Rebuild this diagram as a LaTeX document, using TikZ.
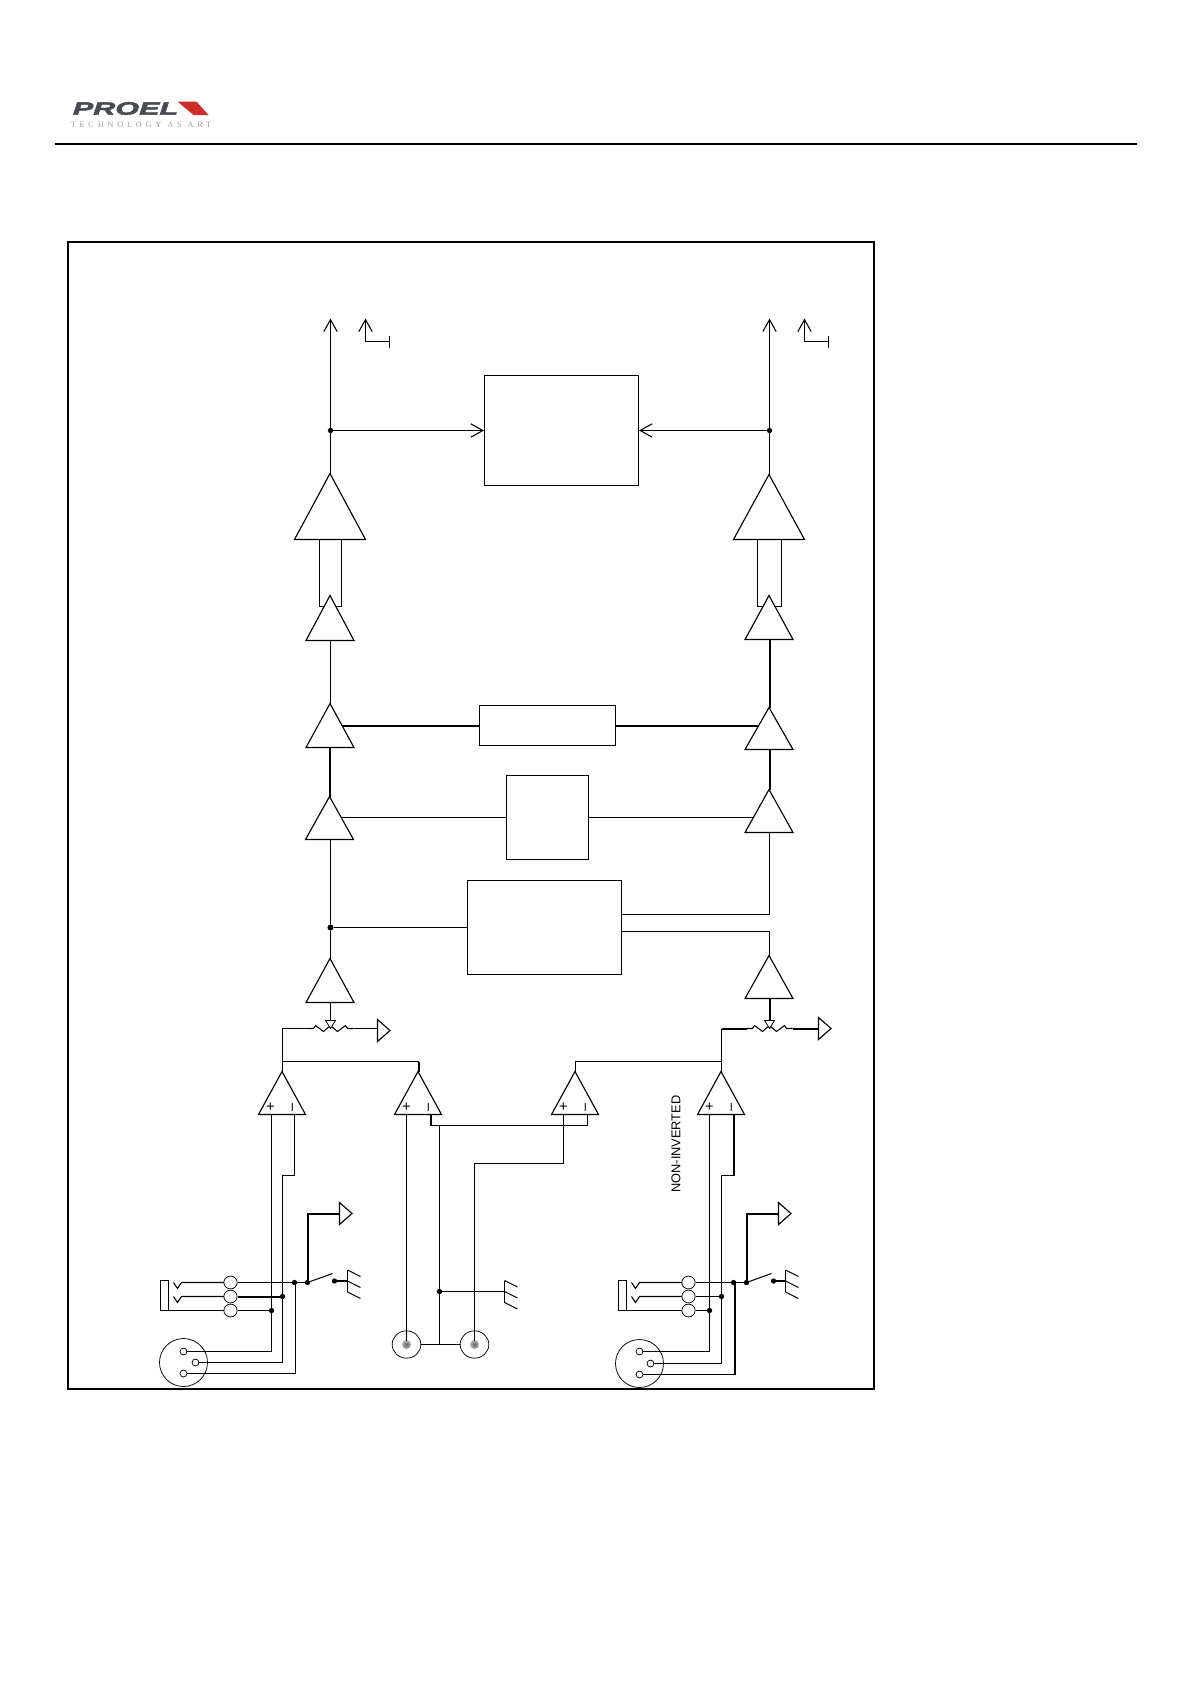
\documentclass[tikz,border=0pt]{standalone}
\usepackage{fontspec}
\setmainfont{Liberation Sans}
\newfontfamily\logofont[BoldItalicFeatures={FakeBold=2.2}]{Liberation Sans}
\newfontfamily\slogfont[LetterSpace=46]{Liberation Serif}
\usetikzlibrary{arrows.meta,calc,shapes.geometric}
\definecolor{logogray}{RGB}{72,76,80}
\definecolor{logored}{RGB}{205,45,40}
\tikzset{
  wire/.style={line width=0.78pt,black,line join=miter},
  heavy/.style={line width=1.5pt,black,line join=miter},
  sym/.style={line width=0.85pt,black,fill=white,line join=miter},
  openarrow/.style={wire,-{Straight Barb[length=9pt,width=10pt,line width=0.8pt]}},
  dotnode/.style={circle,fill=black,inner sep=0pt,minimum size=4pt},
  boxnode/.style={draw,line width=0.78pt,fill=white,inner sep=0pt},
  pinnode/.style={circle,draw,line width=0.55pt,fill=white,inner sep=0pt,minimum size=5.2pt},
  lugnode/.style={ellipse,draw,line width=0.55pt,fill=white,inner sep=0pt,minimum width=10pt,minimum height=9.6pt},
  connode/.style={circle,draw,line width=0.55pt,inner sep=0pt,minimum size=36pt},
  rcanode/.style={ellipse,draw,line width=0.55pt,fill=white,inner sep=0pt,minimum width=21.5pt,minimum height=20.5pt},
  signnode/.style={font=\fontsize{11}{11}\selectfont,inner sep=0pt}
}
% triangle amplifier: name, apex x, apex y, half width, base y
\newcommand{\ampsym}[5]{%
  \draw[sym] (#2,#3) -- (#2+#4,#5) -- (#2-#4,#5) -- cycle;
  \coordinate (#1-top) at (#2,#3);
  \coordinate (#1-bot) at (#2,#5);
}
% operational amplifier, all of one height
\newcommand{\opsym}[2]{%
  \ampsym{#1}{#2}{1071}{23.5}{1114}
  \coordinate (#1-p) at (#2-11.5,1114);
  \coordinate (#1-m) at (#2+12,1114);
  \node[signnode] at (#2-11.5,1106.5) {+};
  \node[signnode,rotate=90] at (#2+12,1106.5) {–};
}
% potentiometer body
\newcommand{\zigsym}[1]{%
  \draw[wire,fill=white] (#1-23,1028) -- (#1-17,1028) -- (#1-15,1025) -- (#1-7,1031) -- (#1,1025) -- (#1+7,1031) -- (#1+15,1025) -- (#1+17,1028) -- (#1+23,1028);
  \draw[sym,line width=0.6pt] (#1-5,1020) -- (#1+5,1020) -- (#1,1028) -- cycle;
}
% ground triangle pointing right
\newcommand{\gndsym}[3]{\draw[sym] (#1,#2-11) -- (#1+12.5,#2) -- (#1,#2+11) -- cycle; \coordinate (#3) at (#1,#2);}
% chassis ground
\newcommand{\chassis}[3]{%
  \draw[wire] (#1,#2-11) -- (#1,#2+11);
  \draw[wire] (#1,#2-11) -- (#1+13,#2-4.5) (#1,#2) -- (#1+13,#2+6.5) (#1,#2+11) -- (#1+13,#2+17.5);
  \coordinate (#3) at (#1,#2);
}
% jack outline: name, left x, ring x
\newcommand{\jacksym}[3]{%
  \draw[wire] (#2,1280) rectangle (#2+8,1310);
  \draw[wire] (#2+13,1282) -- (#2+17,1288) -- (#2+21,1282) -- (#3,1282);
  \draw[wire] (#2+13,1296) -- (#2+17,1302) -- (#2+21,1296) -- (#3,1296);
  \draw[wire] (#2+8,1310) -- (#3,1310);
  \node[lugnode] (#1a) at (#3,1282) {};
  \node[lugnode] (#1b) at (#3,1296) {};
  \node[lugnode] (#1c) at (#3,1310) {};
}
\begin{document}
\begin{tikzpicture}[x=0.75pt,y=-0.75pt]
\useasboundingbox (0,0) rectangle (1190,1684);
\fill[white] (0,0) rectangle (1190,1684);
\begin{scope}[shift={(0.5,0.5)}]

% header
\node[inner sep=0pt,xscale=1.7,font=\logofont\bfseries\itshape\fontsize{13.5}{13.5}\selectfont,text=logogray] (brand) at (125,108) {PROEL};
\fill[logored] (177,101) -- (196,101) -- (208,114.5) -- (193,114.5) -- cycle;
\node[inner sep=0pt,font=\slogfont\fontsize{6.2}{6.4}\selectfont,text=black!38] (slogan) at (140.5,124.5) {TECHNOLOGY AS ART};
\draw[line width=1.5pt] (54,143) coordinate (hl) -- (1136,143) coordinate (hr);

% frame
\draw[line width=1.5pt] (67.5,241.5) rectangle (873.5,1388.5);

% blocks
\node[boxnode,minimum width=115.5pt,minimum height=82.5pt] (bxa) at (561,430) {};
\node[boxnode,minimum width=102pt,minimum height=30pt] (bxb) at (547,725) {};
\node[boxnode,minimum width=61.5pt,minimum height=63pt] (bxc) at (547,817) {};
\node[boxnode,minimum width=115.5pt,minimum height=70.5pt] (bxd) at (544,927) {};

% junctions
\node[dotnode] (dl) at (330,430) {};
\node[dotnode] (dr) at (769,430) {};
\node[dotnode,minimum size=4.6pt] (dm) at (330,927) {};

\coordinate (tl) at (330,318);
\coordinate (tr) at (769,318);

% output lines
\draw[openarrow] (330,473) -- (tl);
\draw[openarrow] (769,474) -- (tr);
\draw[openarrow] (dl) -- (bxa.west);
\draw[openarrow] (dr) -- (bxa.east);
\draw[line width=1.3pt] (769,462) -- (769,474);

% output symbols
\coordinate (sl) at (365,341); \coordinate (sla) at (365,318); \coordinate (slb) at (389,341);
\draw[openarrow] (sl) -- (sla);
\draw[wire] (sl) -- (slb) (389,335) -- (389,347);
\coordinate (sr) at (804,341); \coordinate (sra) at (804,318); \coordinate (srb) at (828,341);
\draw[openarrow] (sr) -- (sra);
\draw[wire] (sr) -- (srb) (828,335) -- (828,347);

% balanced rails
\draw[wire] (319,539) -- (319,606) -- (330,606);
\draw[wire] (341,539) -- (341,606) -- (330,606);
\draw[wire] (757,539) -- (757,606) -- (769,606);
\draw[wire] (781,539) -- (781,606) -- (769,606);
\draw[line width=1.2pt] (781,539) -- (781,551);

% vertical signal paths
\draw[wire] (330,640) -- (330,703);
\draw[heavy] (329,747) -- (329,796);
\draw[wire] (330,839) -- (dm) -- (330,958);
\draw[heavy] (769,639) -- (769,707);
\draw[heavy] (769,749) -- (769,789);
\draw[wire] (769,832) |- (bxd.east |- 0,914);
\draw[wire] (769,955) |- (bxd.east |- 0,931);

% cross links
\draw[heavy] (330,725) -- (bxb.west);
\draw[heavy] (bxb.east) -- (769,725);
\draw[wire] (330,817) -- (bxc.west);
\draw[wire] (bxc.east) -- (769,817);
\draw[wire] (dm) -- (bxd.west);

% potentiometer wiring
\draw[wire] (330,1002) -- (330,1028);
\draw[heavy] (769,998) -- (769,1028);
\draw[wire] (282,1071) -- (282,1028) -- (307,1028);
\draw[wire] (353,1028) -- (377,1028);
\draw[line width=1pt] (721,1071) -- (721,1028);
\draw[heavy] (721,1028) -- (746,1028);
\draw[heavy] (792,1028) -- (818,1028);
\draw[line width=1pt] (282,1061) -- (418,1061);
\draw[heavy] (418,1061) -- (418,1071);
\draw[line width=1pt] (575,1071) -- (575,1061) -- (721,1061);

% input connectors
\jacksym{ja}{160}{230}
\jacksym{jb}{618}{688}
\node[connode] (xa) at (183,1362) {};
\node[connode] (xb) at (639,1363) {};
\node[pinnode] (xa1) at (183,1351) {};
\node[pinnode] (xa2) at (195,1362) {};
\node[pinnode] (xa3) at (183,1373) {};
\node[pinnode] (xb1) at (639,1351) {};
\node[pinnode] (xb2) at (650,1363) {};
\node[pinnode] (xb3) at (639,1374) {};

\node[dotnode] (a1) at (271,1310) {};
\node[dotnode] (a2) at (282,1296) {};
\node[dotnode] (a3) at (294,1282) {};
\node[dotnode] (a4) at (307,1282) {};
\node[dotnode] (a5) at (334,1280.5) {};
\node[dotnode] (b1) at (709,1310) {};
\node[dotnode] (b2) at (721,1296) {};
\node[dotnode] (b3) at (733,1282) {};
\node[dotnode] (b4) at (746,1282) {};
\node[dotnode] (b5) at (773,1280.5) {};

\chassis{347}{1280.5}{ca}
\chassis{785}{1280.5}{cb}
\chassis{504}{1291}{cc}
\coordinate (gaq) at (339,1213);
\coordinate (gbq) at (778,1213);
\node[dotnode] (c1) at (439,1291) {};

% left balanced input
\draw[wire] (271,1114) -- (a1) -- (271,1351) -- (xa1);
\draw[wire] (294,1114) -- (294,1175) -- (282,1175) -- (a2) -- (282,1362) -- (xa2);
\draw[line width=1pt] (a3) -- (295,1282) -- (295,1373) -- (xa3);
\draw[wire] (jaa) -- (a3) -- (a4);
\draw[heavy] (jab) -- (a2);
\draw[wire] (jac) -- (a1);
\draw[wire] (a4) -- (332,1273);
\draw[heavy] (a5) -- (ca);
\draw[heavy] (a4) |- (gaq);

% right balanced input
\draw[wire] (709,1114) -- (b1) -- (709,1351) -- (xb1);
\draw[heavy] (733,1114) -- (733,1175);
\draw[wire] (733,1175) -- (721,1175) -- (b2) -- (721,1363) -- (xb2);
\draw[heavy] (b3) -- (734,1282) -- (734,1374);
\draw[wire] (734,1374) -- (xb3);
\draw[wire] (jba) -- (b3) -- (b4);
\draw[wire] (jbb) -- (b2);
\draw[wire] (jbc) -- (b1);
\draw[wire] (b4) -- (771,1273);
\draw[heavy] (b5) -- (cb);
\draw[heavy] (b4) |- (gbq);

% RCA input
\node[rcanode] (ra) at (406,1344) {};
\node[rcanode] (rb) at (474,1344) {};
\shade[inner color=black!60,outer color=black!30] (ra) circle (4.5);
\shade[inner color=black!60,outer color=black!30] (rb) circle (4.5);
\draw[wire] (406,1114) -- (406,1340);
\draw[heavy] (430,1114) -- (430,1125);
\draw[line width=1.2pt] (430,1125) -- (439,1125);
\draw[wire] (439,1125) -- (587,1125) -- (587,1114);
\draw[line width=1pt] (439,1125) -- (c1) -- (439,1344);
\draw[wire] (ra) -- (rb);
\draw[wire] (c1) -- (cc);
\draw[wire] (563,1114) -- (563,1163) -- (474,1163) -- (474,1340);

% symbols on top
\ampsym{ua}{329.5}{473}{35.5}{539}
\ampsym{ub}{768.5}{474}{35.5}{539}
\ampsym{uc}{329.5}{595}{24}{640}
\ampsym{ud}{768.5}{595}{24}{639}
\ampsym{ue}{329.5}{703}{24}{747}
\ampsym{uf}{768.5}{707}{24}{749}
\ampsym{ug}{329}{796}{24}{839}
\ampsym{uh}{768.5}{789}{24}{832}
\ampsym{ui}{329.5}{958}{24}{1002}
\ampsym{uj}{768.5}{955}{24}{998}
\opsym{oa}{281.5}
\opsym{ob}{417.5}
\opsym{oc}{574.5}
\opsym{od}{720.5}
\zigsym{330}
\zigsym{769}
\gndsym{377}{1030}{ga}
\gndsym{818}{1028}{gb}
\gndsym{339}{1213}{gc}
\gndsym{778}{1213}{gd}

\node[rotate=90,inner sep=0pt,font=\fontsize{9.6}{9.6}\selectfont] (lab) at (675.5,1143.5) {NON-INVERTED};
\end{scope}
\end{tikzpicture}
\end{document}
